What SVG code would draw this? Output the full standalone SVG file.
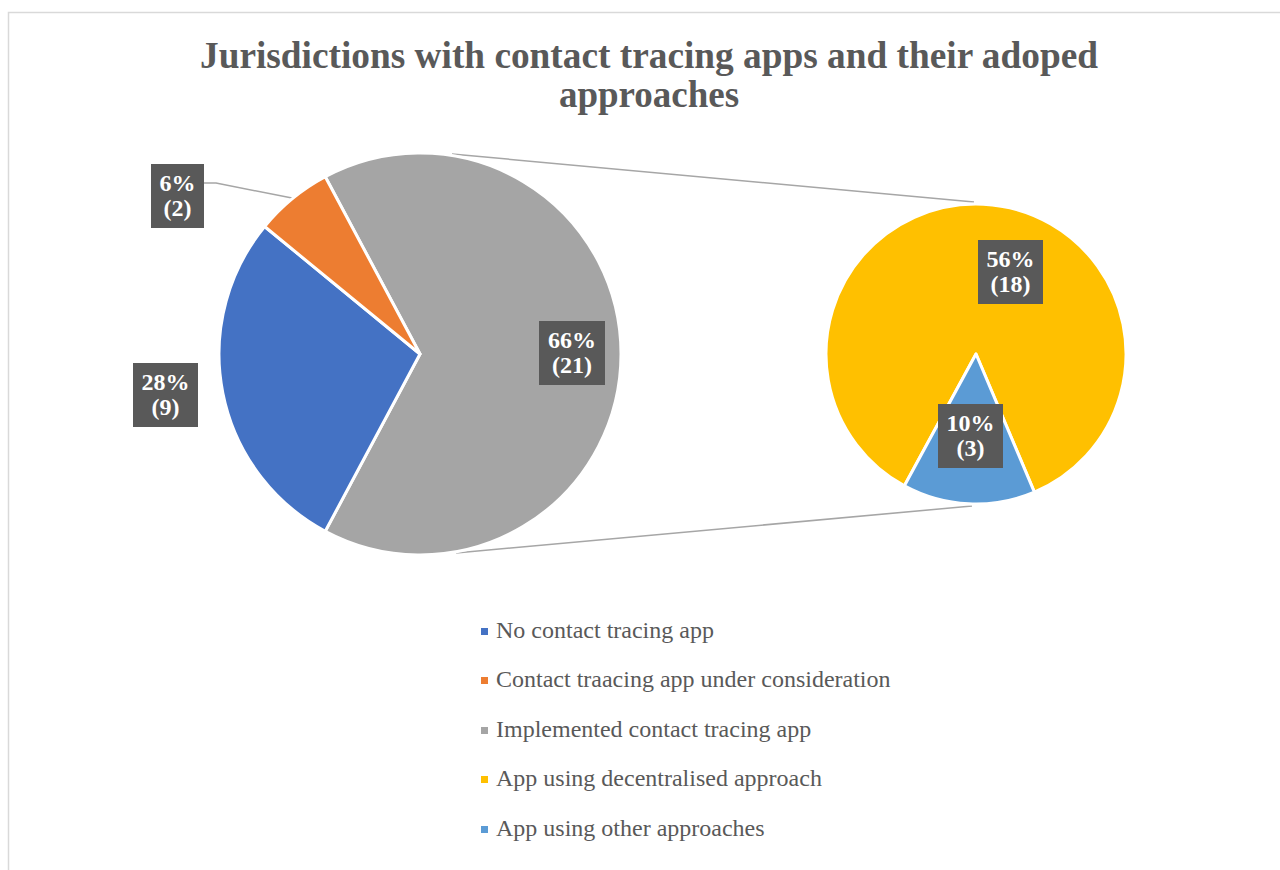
<svg xmlns="http://www.w3.org/2000/svg" width="1280" height="870" viewBox="0 0 1280 870">
<style>
.title{font-family:"Liberation Serif","Times New Roman",serif;font-weight:bold;font-size:37px;fill:#595959;text-anchor:middle}
.lbl{font-family:"Liberation Serif","Times New Roman",serif;font-weight:bold;font-size:24px;fill:#ffffff;text-anchor:middle}
.box{fill:#595959}
.leg{font-family:"Liberation Serif","Times New Roman",serif;font-size:24px;fill:#595959}
.slice{stroke:#ffffff;stroke-width:3;stroke-linejoin:round}
.conn{stroke:#a6a6a6;stroke-width:1.5;fill:none}
</style>
<rect x="0" y="0" width="1280" height="870" fill="#ffffff"/>
<rect x="8.5" y="12.5" width="1290" height="880" fill="#ffffff" stroke="#d9d9d9" stroke-width="1.5"/>
<g id="title">
<text class="title" x="649" y="68" textLength="898" lengthAdjust="spacingAndGlyphs">Jurisdictions with contact tracing apps and their adoped</text>
<text class="title" x="649" y="107">approaches</text>
</g>
<g id="connectors">
<line class="conn" x1="452" y1="154" x2="974" y2="202"/>
<line class="conn" x1="456" y1="553" x2="972" y2="506"/>
<polyline class="conn" points="204,183 216,183 292,198"/>
</g>
<g id="pie-main">
<path id="slice-implemented" class="slice" fill="#A5A5A5" d="M420,354 L325.25,176.74 A201,201 0 1 1 325.25,531.26 Z"/>
<path id="slice-none" class="slice" fill="#4472C4" d="M420,354 L325.25,531.26 A201,201 0 0 1 264.63,226.49 Z"/>
<path id="slice-consideration" class="slice" fill="#ED7D31" d="M420,354 L264.63,226.49 A201,201 0 0 1 325.25,176.74 Z"/>
</g>
<g id="pie-secondary">
<path id="slice-decentralised" class="slice" fill="#FFC000" d="M976,354 L904.42,485.82 A150,150 0 1 1 1034.37,492.18 Z"/>
<path id="slice-other" class="slice" fill="#5B9BD5" d="M976,354 L1034.37,492.18 A150,150 0 0 1 904.42,485.82 Z"/>
</g>
<g id="label-6">
<rect class="box" x="151" y="164" width="53" height="64"/>
<text class="lbl" x="177.5" y="191">6%</text>
<text class="lbl" x="177.5" y="216">(2)</text>
</g>
<g id="label-28">
<rect class="box" x="133" y="363" width="65" height="64"/>
<text class="lbl" x="165.5" y="390">28%</text>
<text class="lbl" x="165.5" y="415">(9)</text>
</g>
<g id="label-66">
<rect class="box" x="539" y="321" width="66" height="64"/>
<text class="lbl" x="572" y="348">66%</text>
<text class="lbl" x="572" y="373">(21)</text>
</g>
<g id="label-56">
<rect class="box" x="978" y="240" width="65" height="64"/>
<text class="lbl" x="1010.5" y="267">56%</text>
<text class="lbl" x="1010.5" y="292">(18)</text>
</g>
<g id="label-10">
<rect class="box" x="938" y="404" width="65" height="64"/>
<text class="lbl" x="970.5" y="431">10%</text>
<text class="lbl" x="970.5" y="456">(3)</text>
</g>
<g id="legend">
<rect x="481" y="628" width="7" height="7" fill="#4472C4"/>
<text class="leg" x="496" y="638">No contact tracing app</text>
<rect x="481" y="677" width="7" height="7" fill="#ED7D31"/>
<text class="leg" x="496" y="687">Contact traacing app under consideration</text>
<rect x="481" y="727" width="7" height="7" fill="#A5A5A5"/>
<text class="leg" x="496" y="737">Implemented contact tracing app</text>
<rect x="481" y="776" width="7" height="7" fill="#FFC000"/>
<text class="leg" x="496" y="786">App using decentralised approach</text>
<rect x="481" y="826" width="7" height="7" fill="#5B9BD5"/>
<text class="leg" x="496" y="836">App using other approaches</text>
</g>
</svg>
